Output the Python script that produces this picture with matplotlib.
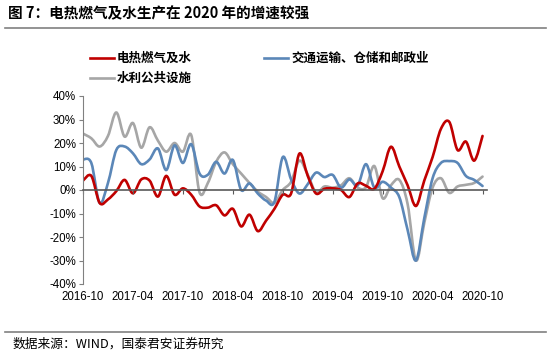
import numpy as np
import matplotlib
matplotlib.use('Agg')
import matplotlib.pyplot as plt
from matplotlib.path import Path
from matplotlib.patches import PathPatch
from matplotlib.lines import Line2D

# 月度数据 2016-10 ~ 2020-10 (同比, %)
months = [f'{y}-{m:02d}' for y in range(2016, 2021) for m in range(1, 13)][9:58]
tick_labels = ['2016-10', '2017-04', '2017-10', '2018-04', '2018-10',
               '2019-04', '2019-10', '2020-04', '2020-10']

dianre = [4, 6, -5.5, -4, -0.5, 4.3, -1.4, 4.5, 4, -2.8, 6, -2, 0.7, -2, -7, -7.5,
          -6.5, -10.8, -8, -15.5, -10.5, -17.5, -13, -8, -2, -1.5, 15.5, 6, -1.5,
          0.5, 0.7, 0, -3, 2.8, 1.8, 0.5, 8, 18.4, 10, 2, -6.8, 4, 14, 26, 29, 17,
          20.6, 12.5, 23]
jiaotong = [13, 11.5, -5.5, 3, 17, 18.5, 15.6, 11, 13, 17.7, 8.5, 19, 11.5, 19.5, 7,
            6.5, 12, 7, 12.8, 0, 2.8, -1.5, -4.5, -5, 14, 4.5, -1.5, 2.5, 7.4, 5.5,
            6.4, 1, 4.5, 2, 11, 1, 3.5, 1, -3, -17, -30, -12, 5, 11.5, 12.3, 11.5,
            6, 4.3, 1.7]
shuili = [24, 22, 18.5, 23, 33, 22.7, 28.5, 18, 26.7, 21, 16.3, 20, 16.3, 23.4, -1,
          3, 12, 16, 11, 7, 3, -0.7, -3, -5.5, 0, 3.5, 12.5, 6.5, -1, 1.5, 1, 2, 5,
          1, 1.2, 10.2, -3.5, 2, 4.3, -6, -30, -14, 1, 5, -1.2, 1.5, 2.2, 3, 5.7]

names = ['电热燃气及水', '交通运输、仓储和邮政业', '水利公共设施']
colors = ['#C00000', '#5B87B8', '#A6A6A6']


def smooth_path(x, y):
    # Excel 风格的平滑线 (Catmull-Rom -> Bezier)
    pts = np.column_stack([x, y]).astype(float)
    n = len(pts)
    verts = [pts[0]]
    codes = [Path.MOVETO]
    for i in range(n - 1):
        p0 = pts[max(i - 1, 0)]
        p1 = pts[i]
        p2 = pts[i + 1]
        p3 = pts[min(i + 2, n - 1)]
        verts += [p1 + (p2 - p0) / 6, p2 - (p3 - p1) / 6, p2]
        codes += [Path.CURVE4] * 3
    return Path(verts, codes)


W, H = 550, 352
fig = plt.figure(figsize=(W / 100, H / 100), dpi=100)
ax = fig.add_axes([83 / W, 1 - 284 / H, (486.7 - 83) / W, (284 - 96) / H])

x = np.arange(len(months))
for vals, c in zip([shuili, jiaotong, dianre], [colors[2], colors[1], colors[0]]):
    ax.add_patch(PathPatch(smooth_path(x, vals), fill=False, edgecolor=c,
                           lw=1.9, capstyle='round', joinstyle='round'))

ax.set_xlim(0, 48.5)
ax.set_ylim(-40, 40)
ax.set_yticks(np.arange(-40, 41, 10))
ax.set_yticklabels([f'{v}%' for v in range(-40, 41, 10)],
                   fontsize=8.3, family='Liberation Sans')
ax.tick_params(axis='y', direction='out', length=3, color='#808080', pad=2)

for s in ['top', 'right']:
    ax.spines[s].set_visible(False)
ax.spines['left'].set_color('#808080')
ax.spines['bottom'].set_position(('data', 0))
ax.spines['bottom'].set_color('#595959')
ax.spines['bottom'].set_linewidth(1.2)
tick_pos = [months.index(t) for t in tick_labels]
ax.set_xticks(tick_pos)
ax.tick_params(axis='x', direction='out', length=3, color='#595959', labelbottom=False)

sec = ax.secondary_xaxis('bottom')
sec.set_xticks(tick_pos)
sec.set_xticklabels(tick_labels, fontsize=8.3, family='Liberation Sans')
sec.tick_params(length=0, pad=5)
sec.spines['bottom'].set_visible(False)

# 图例按列填充: 第一列 红/灰, 第二列 蓝
handles = [Line2D([], [], color=c, lw=1.9) for c in colors]
order = [0, 2, 1]
leg = fig.legend([handles[i] for i in order], [names[i] for i in order],
                 loc='upper left', ncol=2,
                 bbox_to_anchor=(90 / W, 1 - 52 / H), frameon=False,
                 prop={'family': 'Noto Sans CJK SC', 'weight': 'bold', 'size': 9},
                 handlelength=1.9, handletextpad=0.25, columnspacing=5.8,
                 labelspacing=0.55, borderpad=0, borderaxespad=0)

fig.text(8 / W, 1 - 13 / H, '图 7：电热燃气及水生产在 2020 年的增速较强',
         family='Noto Sans CJK SC', weight='bold', fontsize=10.5, va='center')
fig.add_artist(Line2D([5 / W, 546 / W], [1 - 28 / H] * 2, color='#808080', lw=1.2))
fig.add_artist(Line2D([5 / W, 546 / W], [1 - 332 / H] * 2, color='#808080', lw=1.2))
fig.text(13 / W, 1 - 344 / H, '数据来源：WIND，国泰君安证券研究',
         family=['Noto Sans CJK SC', 'DejaVu Sans'], fontsize=9.2, va='center')

fig.savefig('out.png', dpi=100)
